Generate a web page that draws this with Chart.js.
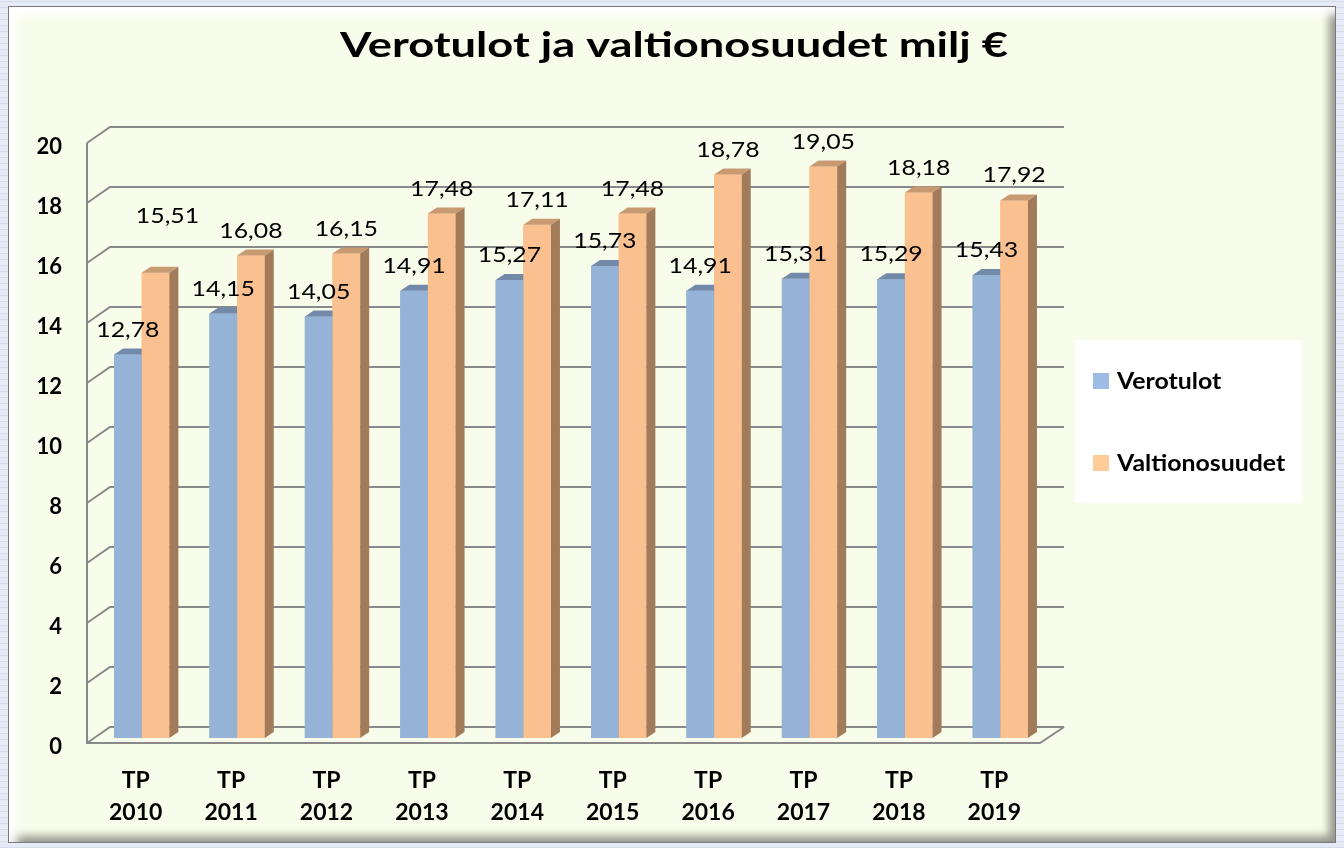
<!DOCTYPE html>
<html lang="fi">
<head>
<meta charset="utf-8">
<title>Verotulot ja valtionosuudet milj €</title>
<script src="https://cdn.jsdelivr.net/npm/chart.js@4/dist/chart.umd.min.js"></script>
<style>
	html, body { margin: 0; padding: 0; }
	body {
		width: 1344px; height: 848px; position: relative; overflow: hidden;
		background: #e6ecf6;
		background-image: repeating-linear-gradient( 0deg, #d3dcec 0 1px, transparent 1px 6px );
	}
	.frame {
		position: absolute; left: 8px; top: 6px; width: 1328px; height: 837px;
		box-sizing: border-box; border: 1px solid #7a7a7a;
		background: #f8fcea;
		box-shadow: inset 14px 14px 10px -6px rgba( 255, 255, 255, 0.95 ), inset -10px -10px 8px -4px rgba( 0, 0, 0, 0.4 );
	}
	canvas { position: absolute; left: 0; top: 0; }
</style>
</head>
<body>
<div class="frame"></div>
<canvas id="chart" width="1344" height="848"></canvas>
<script>
// Data (milj €).
const categories = [ 'TP 2010', 'TP 2011', 'TP 2012', 'TP 2013', 'TP 2014', 'TP 2015', 'TP 2016', 'TP 2017', 'TP 2018', 'TP 2019' ];
const verotulot = [ 12.78, 14.15, 14.05, 14.91, 15.27, 15.73, 14.91, 15.31, 15.29, 15.43 ];
const valtionosuudet = [ 15.51, 16.08, 16.15, 17.48, 17.11, 17.48, 18.78, 19.05, 18.18, 17.92 ];
const yMin = 0;
const yMax = 20;
const yStep = 2;

( function () {
	'use strict';

	const FONT = 'Lato, Carlito, "Open Sans", sans-serif';
	const TITLE = 'Verotulot ja valtionosuudet milj €';
	const DEPTH = { dx: 9, dy: -6 };          // bar side/top face offset
	const WALL = { back: [ 16, -11 ], front: [ -7, 5 ] }; // gridline offsets from the bar plane
	const GRID = '#898989';
	const STRETCH = 1.13;                      // the original picture is a bit wider than tall

	const fmt = ( n ) => n.toFixed( 2 ).replace( '.', ',' );

	// Label moved by hand in the original workbook: [datasetIndex, index] -> [dx, dy].
	const labelNudge = { '1:0': [ 12, -32 ] };

	function wideText( ctx, text, x, y, sx ) {
		ctx.save();
		ctx.translate( x, y );
		ctx.scale( sx, 1 );
		ctx.fillText( text, 0, 0 );
		ctx.restore();
	}

	const title = {
		id: 'bigTitle',
		afterDraw( chart ) {
			const { ctx } = chart;
			ctx.save();
			ctx.font = 'bold 35px ' + FONT;
			ctx.fillStyle = '#000';
			ctx.textAlign = 'center';
			ctx.textBaseline = 'alphabetic';
			const w = ctx.measureText( TITLE ).width;
			wideText( ctx, TITLE, 674, 57, 668 / w );
			ctx.restore();
		},
	};

	// Back wall, left wall and floor drawn in a fake 3D projection.
	const wall = {
		id: 'wall',
		beforeDatasetsDraw( chart ) {
			const { ctx, chartArea: a, scales: { y } } = chart;
			const [ bx, by ] = WALL.back;
			const [ fx, fy ] = WALL.front;
			ctx.save();
			ctx.strokeStyle = GRID;
			ctx.lineWidth = 2;
			ctx.beginPath();
			y.ticks.forEach( ( t ) => {
				const p = y.getPixelForValue( t.value );
				ctx.moveTo( a.left + fx, p + fy );
				ctx.lineTo( a.left + bx, p + by );
				ctx.lineTo( a.right + bx, p + by );
			} );
			// left wall front edge
			ctx.moveTo( a.left + fx, y.getPixelForValue( yMax ) + fy );
			ctx.lineTo( a.left + fx, y.getPixelForValue( yMin ) + fy );
			// floor front edge and right side
			const p0 = y.getPixelForValue( yMin );
			ctx.lineTo( a.right - 8, p0 + fy );
			ctx.lineTo( a.right + bx, p0 + by );
			ctx.stroke();
			ctx.restore();
		},
	};

	// Top and side faces of each bar. Series go left to right, so each
	// series' front faces are repainted over the previous series' top face.
	const prism = {
		id: 'prism',
		afterDatasetsDraw( chart ) {
			const { ctx } = chart;
			const { dx, dy } = DEPTH;
			ctx.save();
			chart.data.datasets.forEach( ( ds, di ) => {
				chart.getDatasetMeta( di ).data.forEach( ( bar ) => {
					bar.draw( ctx );
					const l = bar.x - bar.width / 2;
					const r = bar.x + bar.width / 2;
					ctx.fillStyle = ds.topColor;
					ctx.beginPath();
					ctx.moveTo( l, bar.y );
					ctx.lineTo( r, bar.y );
					ctx.lineTo( r + dx, bar.y + dy );
					ctx.lineTo( l + dx, bar.y + dy );
					ctx.closePath();
					ctx.fill();
					ctx.fillStyle = ds.sideColor;
					ctx.beginPath();
					ctx.moveTo( r, bar.y );
					ctx.lineTo( r + dx, bar.y + dy );
					ctx.lineTo( r + dx, bar.base + dy );
					ctx.lineTo( r, bar.base );
					ctx.closePath();
					ctx.fill();
				} );
			} );
			ctx.restore();
		},
	};

	const valueLabels = {
		id: 'valueLabels',
		afterDatasetsDraw( chart ) {
			const { ctx } = chart;
			ctx.save();
			ctx.font = '22px ' + FONT;
			ctx.fillStyle = '#000';
			ctx.textAlign = 'center';
			ctx.textBaseline = 'middle';
			chart.data.datasets.forEach( ( ds, di ) => {
				chart.getDatasetMeta( di ).data.forEach( ( bar, i ) => {
					const [ nx, ny ] = labelNudge[ di + ':' + i ] || [ 0, 0 ];
					wideText( ctx, fmt( ds.data[ i ] ), bar.x + nx, bar.y - 25 + ny, STRETCH );
				} );
			} );
			ctx.restore();
		},
	};

	const boxLegend = {
		id: 'boxLegend',
		afterDraw( chart ) {
			const { ctx } = chart;
			ctx.save();
			ctx.fillStyle = '#ffffff';
			ctx.fillRect( 1075, 340, 227, 163 );
			ctx.font = 'bold 22px ' + FONT;
			ctx.textBaseline = 'middle';
			chart.data.datasets.forEach( ( ds, i ) => {
				const cy = 381 + i * 82;
				ctx.fillStyle = ds.legendColor;
				ctx.fillRect( 1093, cy - 8, 16, 16 );
				ctx.fillStyle = '#000';
				wideText( ctx, ds.label, 1117, cy + 1, STRETCH );
			} );
			ctx.restore();
		},
	};

	new Chart( document.getElementById( 'chart' ), {
		type: 'bar',
		data: {
			labels: categories.map( ( c ) => c.split( ' ' ) ),
			datasets: [
				{
					label: 'Verotulot',
					data: verotulot,
					backgroundColor: '#95b3d7',
					topColor: '#7389aa',
					sideColor: '#6f86a8',
					legendColor: '#9dbde6',
				},
				{
					label: 'Valtionosuudet',
					data: valtionosuudet,
					backgroundColor: '#fac090',
					topColor: '#c79a72',
					sideColor: '#a27c5a',
					legendColor: '#ffcc99',
				},
			],
		},
		options: {
			responsive: false,
			animation: false,
			devicePixelRatio: 1,
			layout: { padding: { top: 138, right: 296, bottom: 0, left: 0 } },
			datasets: { bar: { categoryPercentage: 0.58, barPercentage: 1, borderWidth: 0 } },
			plugins: {
				legend: { display: false },
				tooltip: { enabled: false },
				title: { display: false },
			},
			scales: {
				x: {
					grid: { display: false, drawTicks: false },
					border: { display: false },
					ticks: {
						color: '#000',
						font: { family: FONT, size: 23, weight: 'bold', lineHeight: 1.4 },
						padding: 26,
						labelOffset: -6,
						maxRotation: 0,
					},
					afterFit( scale ) { scale.height = 110; },
				},
				y: {
					min: yMin,
					max: yMax,
					grid: { display: false, drawTicks: false },
					border: { display: false },
					ticks: {
						stepSize: yStep,
						color: '#000',
						font: { family: FONT, size: 22, weight: 'bold' },
						padding: 32,
						labelOffset: 9,
					},
					afterFit( scale ) { scale.width = 94; },
				},
			},
		},
		plugins: [ wall, prism, valueLabels, boxLegend, title ],
	} );
} )();
</script>
</body>
</html>
